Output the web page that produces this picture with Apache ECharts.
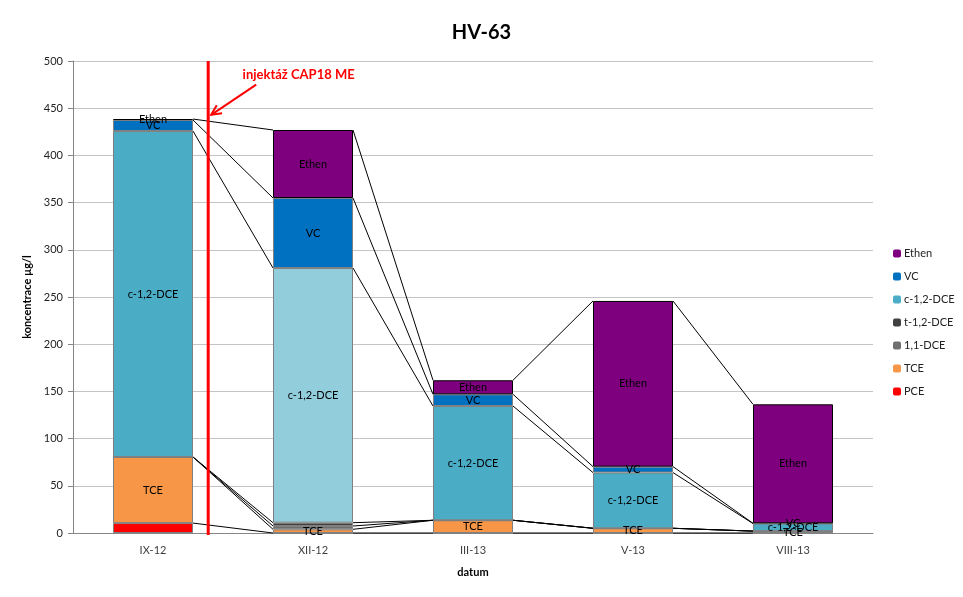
<!DOCTYPE html>
<html><head><meta charset="utf-8">
<script src="https://cdn.jsdelivr.net/npm/echarts@6/dist/echarts.min.js"></script>
<style>html,body{margin:0;padding:0;background:#fff}#c{width:963px;height:597px}</style>
</head><body><div id="c"></div>
<script>
const categories = ['IX-12', 'XII-12', 'III-13', 'V-13', 'VIII-13'];
const yTicks = [0, 50, 100, 150, 200, 250, 300, 350, 400, 450, 500];
// stacked from bottom to top
const PCE    = [10.5, 0, 0, 0, 0];
const TCE    = [70, 3.9, 13.5, 5, 2];
const DCE11  = [0, 3.5, 0, 0, 0];
const tDCE   = [0, 3.5, 0, 0, 0];
const cDCE   = [345.3, 269.8, 121, 59, 8];
const VC     = [11.7, 74.2, 12.4, 6.3, 0.3];
const Ethen  = [1, 72, 14.9, 175.5, 126];
const seriesNames = ['PCE', 'TCE', '1,1-DCE', 't-1,2-DCE', 'c-1,2-DCE', 'VC', 'Ethen'];
const seriesValues = [PCE, TCE, DCE11, tDCE, cDCE, VC, Ethen];
const annotationText = 'injektáž CAP18 ME';

const colors = ['#FF0000', '#F79646', '#6F6F6F', '#404040', '#4BACC6', '#0070C0', '#7F007F'];
const labelled = {'TCE': true, 'c-1,2-DCE': true, 'VC': true, 'Ethen': true};
const FONT = 'Lato, "Open Sans", sans-serif';

// cumulative tops
const cum = seriesValues.map((_, k) => categories.map((c, i) => {
  let s = 0; for (let j = 0; j <= k; j++) s += seriesValues[j][i]; return s;
}));

const barSeries = seriesNames.map((name, k) => ({
  name, type: 'bar', stack: 'total', barWidth: '50%',
  itemStyle: { color: colors[k], borderColor: name === 'Ethen' ? '#000' : '#808080', borderWidth: 1 },
  label: { show: !!labelled[name], position: 'inside', formatter: name, color: '#000', fontSize: 11, fontFamily: FONT },
  data: seriesValues[k].map((v, i) => (name === 'c-1,2-DCE' && i === 1) ? { value: v, itemStyle: { color: '#92CDDC' } } : v),
  z: 2
}));

const connectorSeries = {
  type: 'custom', silent: true, z: 3,
  data: [0, 1, 2, 3],
  renderItem: function (params, api) {
    const i = api.value(0);
    const band = api.size([1, 0])[0];
    const half = band * 0.25;
    const children = [];
    for (let k = 0; k < cum.length; k++) {
      const p1 = api.coord([i, cum[k][i]]);
      const p2 = api.coord([i + 1, cum[k][i + 1]]);
      children.push({ type: 'line', shape: { x1: p1[0] + half, y1: p1[1], x2: p2[0] - half, y2: p2[1] },
        style: { stroke: '#000', lineWidth: 1 } });
    }
    return { type: 'group', children };
  }
};

const annotationSeries = {
  type: 'custom', silent: true, z: 10,
  data: [0],
  renderItem: function (params, api) {
    const band = api.size([1, 0])[0];
    const c0 = api.coord([0, 0]);
    const top = api.coord([0, 500]);
    const xl = c0[0] + band * 0.345;
    const tail = [c0[0] + band * 0.645, api.coord([0, 475])[1]];
    const tip = [xl + 3, api.coord([0, 443])[1]];
    const ang = Math.atan2(tail[1] - tip[1], tail[0] - tip[0]);
    const L = 11, a = 0.45;
    const h1 = [tip[0] + L * Math.cos(ang + a), tip[1] + L * Math.sin(ang + a)];
    const h2 = [tip[0] + L * Math.cos(ang - a), tip[1] + L * Math.sin(ang - a)];
    return { type: 'group', children: [
      { type: 'line', shape: { x1: xl, y1: top[1], x2: xl, y2: c0[1] + 2 }, style: { stroke: '#FF0000', lineWidth: 3 } },
      { type: 'line', shape: { x1: tail[0], y1: tail[1], x2: tip[0], y2: tip[1] }, style: { stroke: '#FF0000', lineWidth: 2 } },
      { type: 'polyline', shape: { points: [h1, tip, h2] }, style: { stroke: '#FF0000', lineWidth: 2, fill: null } },
      { type: 'text', x: c0[0] + band * 0.56, y: api.coord([0, 485])[1],
        style: { text: annotationText, fill: '#FF0000', font: 'bold 13px ' + FONT, textVerticalAlign: 'middle' } }
    ] };
  }
};

const chart = echarts.init(document.getElementById('c'), null, { renderer: 'canvas' });
chart.setOption({
  animation: false,
  textStyle: { fontFamily: FONT },
  title: { text: 'HV-63', left: 'center', top: 18, textStyle: { fontSize: 20, fontWeight: 'bold', color: '#000', fontFamily: FONT } },
  legend: {
    orient: 'vertical', left: 888, top: 243, itemWidth: 8, itemHeight: 8, itemGap: 12,
    data: ['Ethen', 'VC', 'c-1,2-DCE', 't-1,2-DCE', '1,1-DCE', 'TCE', 'PCE'],
    textStyle: { fontSize: 11, color: '#222', fontFamily: FONT, padding: [0, 0, 0, -2] },
    itemStyle: { borderWidth: 0 }
  },
  grid: { left: 73, top: 61, width: 800, bottom: 64, containLabel: false },
  xAxis: {
    type: 'category', data: categories,
    name: 'datum', nameLocation: 'middle', nameGap: 34,
    nameTextStyle: { fontWeight: 'bold', fontSize: 11, color: '#000' },
    axisLine: { lineStyle: { color: '#868686' } },
    axisTick: { show: false },
    axisLabel: { fontSize: 11, color: '#404040', margin: 12 }
  },
  yAxis: {
    type: 'value', min: 0, max: 500, interval: 50,
    name: 'koncentrace µg/l', nameLocation: 'middle', nameGap: 38,
    nameTextStyle: { fontWeight: 'bold', fontSize: 11, color: '#000' },
    axisLine: { show: true, lineStyle: { color: '#868686' } },
    axisTick: { show: true, length: 5, lineStyle: { color: '#868686' } },
    splitLine: { show: true, lineStyle: { color: '#c4c4c4', width: 1 } },
    axisLabel: { fontSize: 11, color: '#222', margin: 10, formatter: v => yTicks.includes(v) ? String(v) : '' }
  },
  series: barSeries.concat([connectorSeries, annotationSeries])
});
</script></body></html>
